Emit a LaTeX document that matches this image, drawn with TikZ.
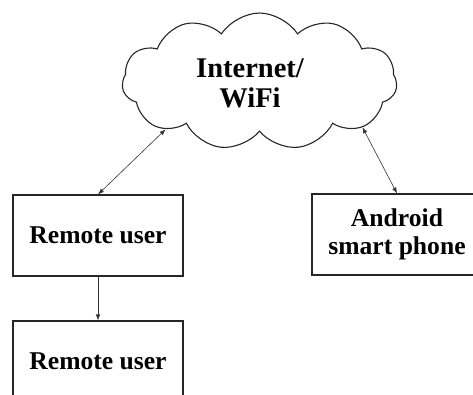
\documentclass[tikz,border=0pt]{standalone}
\usepackage{fontspec}
\setmainfont{Liberation Serif}
\usetikzlibrary{shapes.symbols,arrows.meta}
\begin{document}
\begin{tikzpicture}[x=1pt,y=-1pt,
  boxnode/.style={draw=black!85,line width=1.1pt,minimum width=170pt,minimum height=81pt,inner sep=0pt,align=center,font=\fontsize{25.6pt}{28pt}\selectfont\bfseries},
  cloudnode/.style={cloud,draw=black!85,line width=1.1pt,cloud puffs=11,cloud puff arc=115,aspect=2,minimum width=275pt,minimum height=137pt,inner sep=0pt,align=center,font=\fontsize{28.5pt}{30pt}\selectfont\bfseries},
  link/.style={draw=black!80,line width=0.6pt,{Latex[length=6pt,width=4.5pt]}-{Latex[length=6pt,width=4.5pt]}},
  onelink/.style={draw=black!80,line width=0.6pt,-{Latex[length=6pt,width=4.5pt]}}]
\useasboundingbox (0,0) rectangle (473,394);
\clip (0,0) rectangle (473,394);
\node[cloudnode] (cloud) at (259.5,81.5) {};
\node[font=\fontsize{28.5pt}{30pt}\selectfont\bfseries,align=center] (ctext) at (250,83) {Internet/\\WiFi};
\node[boxnode] (b1) at (98,235.5) {Remote user};
\node[boxnode] (b2) at (98,361.5) {Remote user};
\node[boxnode] (b3) at (397,234.5) {Android\\smart phone};
\draw[link] (b1.north) -- (cloud.207);
\draw[link] (b3.north) -- (cloud.336);
\draw[onelink] (b1.south) -- (b2.north);
\end{tikzpicture}
\end{document}
